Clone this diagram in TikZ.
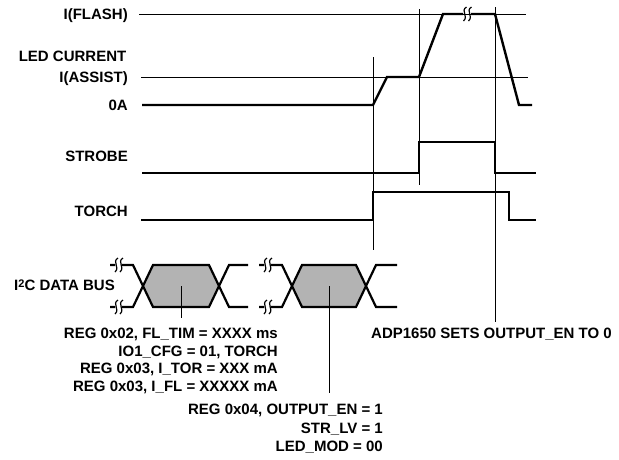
\documentclass[tikz,border=0pt]{standalone}
\usepackage{fontspec}
\setmainfont{Liberation Sans}
\begin{document}
\begin{tikzpicture}[x=1pt,y=-1pt,
  lbl/.style={font=\fontsize{15}{18}\selectfont\bfseries, inner sep=0pt, anchor=base east},
  refline/.style={line width=0.9pt},
  wave/.style={line width=2.4pt},
  busline/.style={line width=2.2pt},
  hexfill/.style={fill={rgb,255:red,179;green,179;blue,179}},
  wig/.pic={\draw[line width=1.2pt] (2,-7) .. controls (-4.5,-3) and (4.5,2) .. (-1,7);}
]
\useasboundingbox (0,0) rectangle (619,459);

% labels
\node[lbl] (lflash) at (128,19.9) {I(FLASH)};
\node[lbl] (lled) at (126.5,61.5) {LED CURRENT};
\node[lbl] (lassist) at (128,82) {I(ASSIST)};
\node[lbl] (l0a) at (128,110.4) {0A};
\node[lbl] (lstrobe) at (128,161.7) {STROBE};
\node[lbl] (ltorch) at (128,216.5) {TORCH};
\node[lbl] (lbus) at (115,290) {I\raisebox{0.3ex}{\fontsize{11}{11}\selectfont 2}C DATA BUS};

% reference lines
\draw[refline] (139,14) -- (526,14);
\draw[refline] (141,77) -- (528,77);
\draw[refline] (373,57) -- (373,250);
\draw[refline] (419,9) -- (419,185);
\draw[refline] (495,7) -- (495,322);

% LED current waveform
\draw[wave] (142,105) -- (373,105) -- (387,77) -- (419,77) -- (443,14) -- (463,14);
\draw[wave] (471,14) -- (495,14) -- (519,105) -- (532,105);
\pic at (464.5,14) {wig};
\pic at (469.5,14) {wig};

% STROBE
\draw[wave] (142,173) -- (419,173) -- (419,142) -- (495,142) -- (495,173) -- (536,173);
% TORCH
\draw[wave] (141,220) -- (373,220) -- (373,192) -- (509,192) -- (509,220) -- (536,220);

% bus 1
\fill[hexfill] (143,286) -- (153,265) -- (209,265) -- (219,286) -- (209,307) -- (153,307) -- cycle;
\draw[busline] (110,265) -- (115,265) (122,265) -- (133,265) -- (153,307) -- (209,307) -- (229,265) -- (248,265);
\draw[busline] (110,307) -- (115,307) (122,307) -- (133,307) -- (153,265) -- (209,265) -- (229,307) -- (248,307);
\pic at (116,265) {wig};
\pic at (121,265) {wig};
\pic at (116,307) {wig};
\pic at (121,307) {wig};
\coordinate (h1) at (181,286);
\coordinate (h1e) at (181,318);

% bus 2
\fill[hexfill] (292,286) -- (302,265) -- (356,265) -- (366,286) -- (356,307) -- (302,307) -- cycle;
\draw[busline] (259,265) -- (264,265) (271,265) -- (282,265) -- (302,307) -- (356,307) -- (376,265) -- (397,265);
\draw[busline] (259,307) -- (264,307) (271,307) -- (282,307) -- (302,265) -- (356,265) -- (376,307) -- (397,307);
\pic at (265,265) {wig};
\pic at (270,265) {wig};
\pic at (265,307) {wig};
\pic at (270,307) {wig};
\coordinate (h2) at (329,286);
\coordinate (h2e) at (329,393);

\draw[refline] (h1) -- (h1e);
\draw[refline] (h2) -- (h2e);

% text block 1
\node[lbl] (t1a) at (278,338.5) {REG 0x02, FL\_TIM = XXXX ms};
\node[lbl] (t1b) at (278,356.2) {IO1\_CFG = 01, TORCH};
\node[lbl] (t1c) at (278,373.9) {REG 0x03, I\_TOR = XXX mA};
\node[lbl] (t1d) at (278,391.6) {REG 0x03, I\_FL = XXXXX mA};

% text block 2
\node[lbl] (t2a) at (383,414.5) {REG 0x04, OUTPUT\_EN = 1};
\node[lbl] (t2b) at (383,433.2) {STR\_LV = 1};
\node[lbl] (t2c) at (383,451.9) {LED\_MOD = 00};

% ADP note
\node[lbl] (adp) at (612,338.5) {ADP1650 SETS OUTPUT\_EN TO 0};
\end{tikzpicture}
\end{document}
